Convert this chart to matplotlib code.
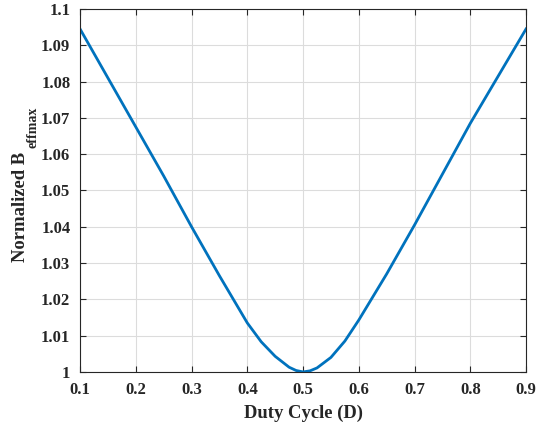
import matplotlib
matplotlib.use("Agg")
import matplotlib.pyplot as plt
from matplotlib.ticker import FormatStrFormatter

plt.rcParams["font.family"] = "Liberation Serif"
plt.rcParams["font.weight"] = "bold"

# values
duty = [0.1, 0.15, 0.2, 0.25, 0.3, 0.35, 0.4, 0.425, 0.45, 0.475, 0.4875,
        0.5, 0.5125, 0.525, 0.55, 0.575, 0.6, 0.65, 0.7, 0.75, 0.8, 0.85, 0.9]
b_norm = [1.0945, 1.081, 1.0675, 1.054, 1.040, 1.0265, 1.0135, 1.0083,
          1.0043, 1.0013, 1.0004, 1.0000, 1.0003, 1.0011, 1.0040, 1.0085,
          1.0143, 1.027, 1.0405, 1.0545, 1.0685, 1.0815, 1.0945]
x_ticks = [0.1, 0.2, 0.3, 0.4, 0.5, 0.6, 0.7, 0.8, 0.9]
y_ticks = [1.0, 1.01, 1.02, 1.03, 1.04, 1.05, 1.06, 1.07, 1.08, 1.09, 1.1]

fig = plt.figure(figsize=(5.52, 4.28), dpi=100)
ax = fig.add_axes([0.145, 0.131, 0.808, 0.848])
ax.plot(duty, b_norm, color="#0072BD", linewidth=2)

ax.set_xlim(0.1, 0.9)
ax.set_ylim(1.0, 1.1)
ax.set_xticks(x_ticks)
ax.set_yticks(y_ticks)
ax.yaxis.set_major_formatter(FormatStrFormatter("%g"))
ax.xaxis.set_major_formatter(FormatStrFormatter("%g"))
ax.grid(True, color="#dcdcdc", linewidth=0.8)
ax.set_axisbelow(True)
ax.tick_params(direction="in", top=True, right=True, labelsize=12,
               colors="#262626", length=4, pad=7)
for s in ax.spines.values():
    s.set_color("#262626")
    s.set_linewidth(0.8)

ax.set_xlabel("Duty Cycle (D)", fontsize=13.4, fontweight="bold",
              color="#262626", labelpad=5)

# y label with a larger subscript, MATLAB style
fig.text(0.038, 0.516, "Normalized B", rotation=90, ha="center", va="center",
         fontsize=13.4, fontweight="bold", color="#262626")
fig.text(0.060, 0.703, "effmax", rotation=90, ha="center", va="center",
         fontsize=10, fontweight="bold", color="#262626")

fig.savefig("out.png", dpi=100)
